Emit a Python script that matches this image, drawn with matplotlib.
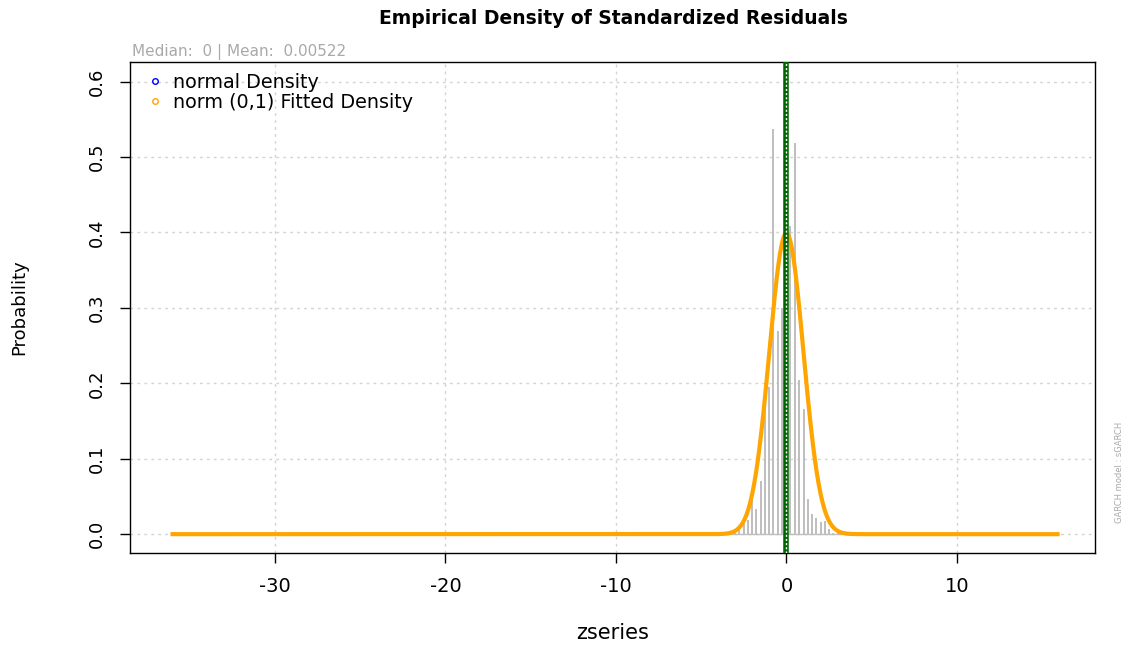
import matplotlib
matplotlib.use("Agg")
import matplotlib.pyplot as plt
import numpy as np
from matplotlib.lines import Line2D

plt.rcParams["font.family"] = ["DejaVu Sans"]

# histogram of standardized residuals (bin centres and densities)
bin_centers = [-4.56, -3.88, -3.51, -3.26, -3.01, -2.76, -2.51, -2.26, -2.01, -1.76,
               -1.51, -1.26, -1.01, -0.76, -0.51, -0.26, -0.01, 0.24, 0.49, 0.76,
               1.01, 1.26, 1.51, 1.76, 2.01, 2.26, 2.51, 2.76, 3.01]
densities = [0.002, 0.003, 0.001, 0.002, 0.003, 0.006, 0.014, 0.019, 0.049, 0.033,
             0.070, 0.172, 0.195, 0.537, 0.270, 0.300, 0.350, 0.408, 0.519, 0.204,
             0.166, 0.047, 0.027, 0.022, 0.016, 0.018, 0.007, 0.002, 0.001]

# fitted norm(0,1) density, evaluated over the range of zseries
zseries_min, zseries_max = -36.0, 15.9
fit_mean, fit_sd = 0.0, 1.0
median_z, mean_z = 0.0, 0.00522

x_ticks = [-30, -20, -10, 0, 10]
y_ticks = [0.0, 0.1, 0.2, 0.3, 0.4, 0.5, 0.6]

fig = plt.figure(figsize=(11.29, 6.5), dpi=100)
ax = fig.add_axes([0.1151, 0.1492, 0.8548, 0.7554])

grid_style = dict(color="#d3d3d3", lw=1, ls=(0, (2, 3)), zorder=0)
for xv in x_ticks:
    ax.axvline(xv, **grid_style)
for yv in y_ticks:
    ax.axhline(yv, **grid_style)

# histogram baseline and bars
ax.plot([zseries_min, zseries_max], [0, 0], color="#bebebe", lw=1, zorder=1)
ax.vlines(bin_centers, 0, densities, color="#bebebe", lw=1.4, zorder=2)

xs = np.linspace(zseries_min, zseries_max, 2000)
pdf = np.exp(-0.5 * ((xs - fit_mean) / fit_sd) ** 2) / (fit_sd * np.sqrt(2 * np.pi))
ax.plot(xs, pdf, color="orange", lw=3, zorder=3)

# median / mean markers
ax.axvline(median_z, color="#006400", lw=4, zorder=4)
ax.axvline(mean_z, color="white", lw=1, ls=(0, (1.5, 1.5)), zorder=5)

ax.set_xlim(-38.5, 18.1)
ax.set_ylim(-0.025, 0.626)
ax.set_xticks(x_ticks)
ax.set_yticks(y_ticks)
ax.set_xticklabels([str(v) for v in x_ticks], fontsize=14)
ax.set_yticklabels([f"{v:.1f}" for v in y_ticks], fontsize=13, rotation=90, va="center")
ax.tick_params(axis="x", direction="out", length=7, width=1, pad=10)
ax.tick_params(axis="y", direction="out", length=7, width=1, pad=10)
for s in ax.spines.values():
    s.set_linewidth(1)
    s.set_color("black")

ax.set_xlabel("zseries", fontsize=15, labelpad=20)
ax.set_ylabel("Probability", fontsize=13, labelpad=43)

fig.text(0.543, 0.972, "Empirical Density of Standardized Residuals",
         ha="center", va="center", fontsize=13.5, fontweight="bold")
ax.text(0.002, 1.004, f"Median:  {median_z:g} | Mean:  {mean_z}", transform=ax.transAxes,
        ha="left", va="bottom", fontsize=11, color="#a9a9a9")
fig.text(0.992, 0.195, "GARCH model : sGARCH", rotation=90, ha="center", va="bottom",
         fontsize=6, color="#a9a9a9")

handles = [
    Line2D([], [], ls="none", marker="o", mfc="none", mec="blue", ms=4, mew=1),
    Line2D([], [], ls="none", marker="o", mfc="none", mec="orange", ms=4, mew=1),
]
ax.legend(handles, ["normal Density", "norm (0,1) Fitted Density"], loc="upper left",
          frameon=False, fontsize=13.8, handletextpad=0.45, handlelength=1,
          borderaxespad=0.15, labelspacing=0.05, bbox_to_anchor=(0.005, 1.0))

fig.savefig("out.png", dpi=100)
